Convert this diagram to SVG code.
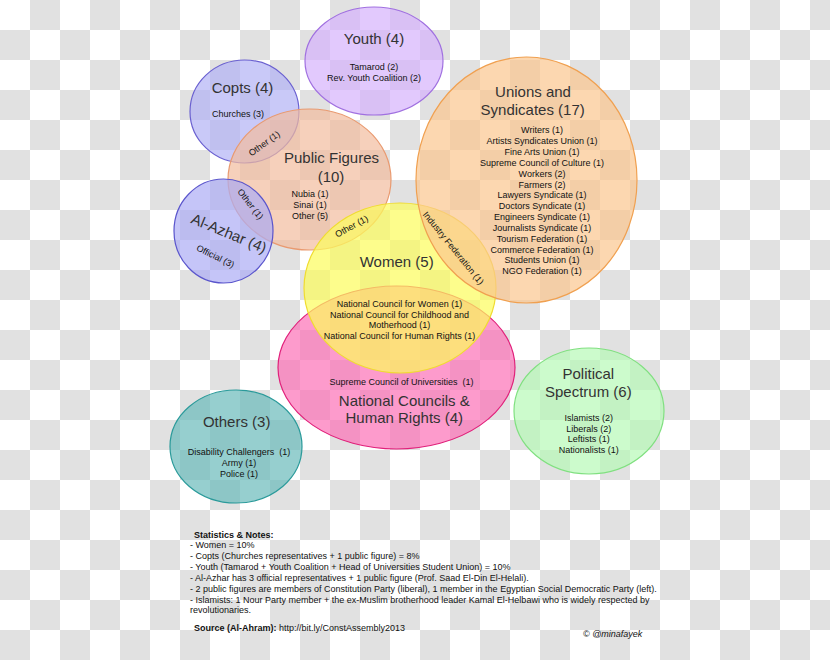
<svg xmlns="http://www.w3.org/2000/svg" width="830" height="660" viewBox="0 0 830 660">
<defs>
<pattern id="checker" x="0" y="0" width="60" height="60" patternUnits="userSpaceOnUse">
<rect width="60" height="60" fill="#ffffff"/>
<rect x="30" y="0" width="30" height="30" fill="#e1e1e1"/>
<rect x="0" y="30" width="30" height="30" fill="#e1e1e1"/>
</pattern>
<style>
text{font-family:"Liberation Sans",Arial,sans-serif;text-anchor:middle}
.t{font-size:15px;fill:#333}
.s{font-size:9px;fill:#111}
.n{font-size:9px;fill:#111;text-anchor:start}
.b{font-weight:bold}
.pre{white-space:pre}
ellipse{stroke-width:1.2;fill-opacity:0.7}
</style>
</defs>
<rect width="830" height="660" fill="url(#checker)"/>

<g id="youth">
<ellipse cx="374" cy="61" rx="69" ry="54" fill="#d5b2fc" stroke="#a070e0"/>
<text class="t" x="374" y="44">Youth (4)</text>
<text class="s" x="374" y="70">Tamarod (2)</text>
<text class="s" x="374" y="81">Rev. Youth Coalition (2)</text>
</g>

<g id="copts">
<ellipse cx="244.5" cy="111.5" rx="54.5" ry="51.5" fill="#b2b2f5" stroke="#6a60d0"/>
<text class="t" x="242.5" y="93">Copts (4)</text>
<text class="s" x="238" y="117">Churches (3)</text>
</g>

<g id="public-figures">
<ellipse cx="309.5" cy="179.5" rx="81.5" ry="70.5" fill="#f2bc9e" stroke="#e99a70"/>
<text class="t" x="331.5" y="163">Public Figures</text>
<text class="t" x="331" y="181.5">(10)</text>
<text class="s" x="310" y="197.3">Nubia (1)</text>
<text class="s" x="310" y="208.3">Sinai (1)</text>
<text class="s" x="310" y="219.3">Other (5)</text>
</g>

<g id="al-azhar">
<ellipse cx="223.5" cy="231" rx="49.5" ry="52" fill="#acacf5" stroke="#5a55cc"/>
<text class="t" transform="translate(227,238) rotate(22.5)">Al-Azhar (4)</text>
<text class="s" transform="translate(214,259) rotate(26)">Official (3)</text>
</g>

<g id="national-councils">
<ellipse cx="396.5" cy="367.5" rx="118.5" ry="81.5" fill="#fc71b6" stroke="#e0207a"/>
<text class="s pre" x="401.5" y="385">Supreme Council of Universities  (1)</text>
<text class="t" x="404.3" y="406">National Councils &amp;</text>
<text class="t" x="404.3" y="423.3">Human Rights (4)</text>
</g>

<g id="women">
<ellipse cx="400" cy="288" rx="96" ry="85" fill="#fcfc5b" stroke="#f0dc30"/>
<text class="t" x="396.7" y="267">Women (5)</text>
<text class="s" x="399.5" y="306.7">National Council for Women (1)</text>
<text class="s" x="399.5" y="317.7">National Council for Childhood and</text>
<text class="s" x="399.5" y="328.3">Motherhood (1)</text>
<text class="s" x="399.5" y="339">National Council for Human Rights (1)</text>
</g>

<g id="unions">
<ellipse cx="526.5" cy="180" rx="110.5" ry="123" fill="#fbc68e" stroke="#f0a050"/>
<text class="t" x="533" y="97.3">Unions and</text>
<text class="t" x="532.7" y="115">Syndicates (17)</text>
<text class="s" x="542" y="133.3">Writers (1)</text>
<text class="s" x="542" y="144.2">Artists Syndicates Union (1)</text>
<text class="s" x="542" y="155">Fine Arts Union (1)</text>
<text class="s" x="542" y="165.8">Supreme Council of Culture (1)</text>
<text class="s" x="542" y="176.7">Workers (2)</text>
<text class="s" x="542" y="187.5">Farmers (2)</text>
<text class="s" x="542" y="198.3">Lawyers Syndicate (1)</text>
<text class="s" x="542" y="209.2">Doctors Syndicate (1)</text>
<text class="s" x="542" y="220">Engineers Syndicate (1)</text>
<text class="s" x="542" y="230.8">Journalists Syndicate (1)</text>
<text class="s" x="542" y="241.7">Tourism Federation (1)</text>
<text class="s" x="542" y="252.5">Commerce Federation (1)</text>
<text class="s" x="542" y="263.3">Students Union (1)</text>
<text class="s" x="542" y="274.2">NGO Federation (1)</text>
</g>

<g id="political-spectrum">
<ellipse cx="589" cy="411" rx="75" ry="63" fill="#b6fab6" stroke="#80e080"/>
<text class="t" x="588.3" y="379">Political</text>
<text class="t" x="588.3" y="396.7">Spectrum (6)</text>
<text class="s" x="588.7" y="421">Islamists (2)</text>
<text class="s" x="588.7" y="431.7">Liberals (2)</text>
<text class="s" x="588.7" y="442">Leftists (1)</text>
<text class="s" x="588.7" y="452.7">Nationalists (1)</text>
</g>

<g id="others">
<ellipse cx="236" cy="446.5" rx="66" ry="56.5" fill="#69baba" stroke="#2a9a9a"/>
<text class="t" x="236.7" y="426.7">Others (3)</text>
<text class="s pre" x="239" y="455">Disability Challengers  (1)</text>
<text class="s" x="239" y="466">Army (1)</text>
<text class="s" x="239" y="476.7">Police (1)</text>
</g>

<g id="overlap-labels">
<text class="s" transform="translate(266,146) rotate(-36)">Other (1)</text>
<text class="s" transform="translate(248,206) rotate(52)">Other (1)</text>
<text class="s" transform="translate(353,229) rotate(-29)">Other (1)</text>
<text class="s" transform="translate(451,250) rotate(51)">Industry Federation (1)</text>
</g>

<g id="notes">
<text class="n b" x="194" y="537.7">Statistics &amp; Notes:</text>
<text class="n" x="190" y="548.3">- Women = 10%</text>
<text class="n" x="190" y="559.2">- Copts (Churches representatives + 1 public figure) = 8%</text>
<text class="n" x="190" y="570">- Youth (Tamarod + Youth Coalition + Head of Universities Student Union) = 10%</text>
<text class="n" x="190" y="580.8">- Al-Azhar has 3 official representatives + 1 public figure (Prof. Saad El-Din El-Helali).</text>
<text class="n" x="190" y="591.7">- 2 public figures are members of Constitution Party (liberal), 1 member in the Egyptian Social Democratic Party (left).</text>
<text class="n" x="190" y="602.5">- Islamists: 1 Nour Party member + the ex-Muslim brotherhood leader Kamal El-Helbawi who is widely respected by</text>
<text class="n" x="190" y="613.3">revolutionaries.</text>
<text class="n" x="194" y="630.7"><tspan class="b">Source (Al-Ahram):</tspan> http://bit.ly/ConstAssembly2013</text>
<text class="n" x="583" y="636.7" font-style="italic">© @minafayek</text>
</g>
</svg>
